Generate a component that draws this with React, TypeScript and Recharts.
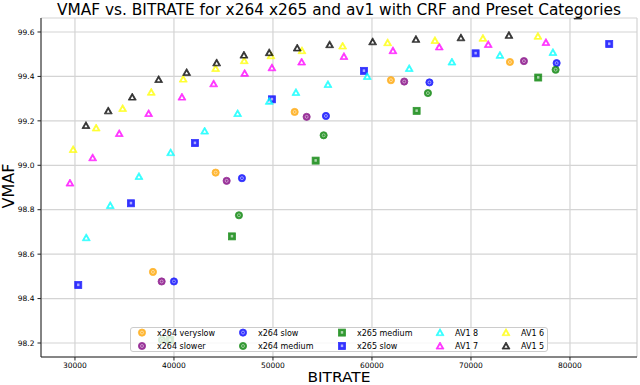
import React from 'react';
import { ScatterChart, Scatter, XAxis, YAxis, CartesianGrid } from 'recharts';

// axis ticks
const X_TICKS = [30000, 40000, 50000, 60000, 70000, 80000];
const Y_TICKS = [98.2, 98.4, 98.6, 98.8, 99.0, 99.2, 99.4, 99.6];

// x264 presets (circles)
const x264VeryslowRate = [37878, 44211, 52190, 61916, 73935];
const x264VeryslowVmaf = [98.52, 98.967, 99.24, 99.383, 99.465];
const x264SlowerRate = [38757, 45322, 53402, 63259, 75349];
const x264SlowerVmaf = [98.477, 98.93, 99.218, 99.377, 99.469];
const x264SlowRate = [39999, 46867, 55351, 65805, 78652];
const x264SlowVmaf = [98.477, 98.942, 99.222, 99.373, 99.46];
const x264MediumRate = [38787, 46564, 55119, 65653, 78551];
const x264MediumVmaf = [98.214, 98.775, 99.135, 99.325, 99.43];

// x265 presets (squares)
const x265MediumRate = [39595, 45857, 54311, 64512, 76793];
const x265MediumVmaf = [98.214, 98.68, 99.021, 99.245, 99.395];
const x265SlowRate = [30333, 35656, 42120, 49897, 59189, 70471, 83964];
const x265SlowVmaf = [98.461, 98.829, 99.1, 99.297, 99.425, 99.504, 99.546];

// AV1 presets (triangles)
const av1P8Rate = [31141, 33565, 36464, 39666, 43100, 46433, 49624, 52321, 55553, 59522, 63764, 68077, 72925, 78278];
const av1P8Vmaf = [98.674, 98.819, 98.95, 99.057, 99.154, 99.233, 99.288, 99.328, 99.364, 99.4, 99.436, 99.465, 99.495, 99.508];
const av1P7Rate = [29495, 31788, 34474, 37444, 40807, 44009, 47140, 49897, 52897, 57169, 62118, 66795, 71743, 77571];
const av1P7Vmaf = [98.92, 99.034, 99.143, 99.233, 99.307, 99.367, 99.414, 99.439, 99.465, 99.49, 99.516, 99.533, 99.544, 99.553];
const av1P6Rate = [29818, 32141, 34818, 37706, 40938, 44211, 47099, 49796, 52927, 57038, 61583, 66360, 71208, 76763];
const av1P6Vmaf = [99.071, 99.168, 99.256, 99.329, 99.388, 99.436, 99.471, 99.493, 99.516, 99.537, 99.552, 99.562, 99.572, 99.581];
const av1P5Rate = [31111, 33363, 35787, 38454, 41282, 44312, 47069, 49624, 52452, 55725, 60068, 64441, 68986, 73834, 80803];
const av1P5Vmaf = [99.179, 99.245, 99.307, 99.386, 99.418, 99.461, 99.496, 99.507, 99.528, 99.543, 99.556, 99.567, 99.574, 99.585, 99.672];

type Kind = 'circle' | 'square' | 'triangle';

const zip = (xs: number[], ys: number[]) => xs.map((x, i) => ({ x, y: ys[i] }));

const SERIES: { name: string; color: string; kind: Kind; data: { x: number; y: number }[] }[] = [
  { name: 'x264 veryslow', color: '#ffa500', kind: 'circle', data: zip(x264VeryslowRate, x264VeryslowVmaf) },
  { name: 'x264 slower', color: '#800080', kind: 'circle', data: zip(x264SlowerRate, x264SlowerVmaf) },
  { name: 'x264 slow', color: '#0000ff', kind: 'circle', data: zip(x264SlowRate, x264SlowVmaf) },
  { name: 'x264 medium', color: '#008000', kind: 'circle', data: zip(x264MediumRate, x264MediumVmaf) },
  { name: 'x265 medium', color: '#008000', kind: 'square', data: zip(x265MediumRate, x265MediumVmaf) },
  { name: 'x265 slow', color: '#0000ff', kind: 'square', data: zip(x265SlowRate, x265SlowVmaf) },
  { name: 'AV1 8', color: '#00ffff', kind: 'triangle', data: zip(av1P8Rate, av1P8Vmaf) },
  { name: 'AV1 7', color: '#ff00ff', kind: 'triangle', data: zip(av1P7Rate, av1P7Vmaf) },
  { name: 'AV1 6', color: '#ffff00', kind: 'triangle', data: zip(av1P6Rate, av1P6Vmaf) },
  { name: 'AV1 5', color: '#000000', kind: 'triangle', data: zip(av1P5Rate, av1P5Vmaf) },
];

const FONT = '"DejaVu Sans", sans-serif';

// marker drawn like the semi transparent matplotlib markers
const Marker = ({ kind, color, cx, cy }: { kind: Kind; color: string; cx: number; cy: number }) => {
  if (cx == null || cy == null) return null;
  if (kind === 'circle') {
    return (
      <g opacity={0.8}>
        <circle cx={cx} cy={cy} r={3.6} fill={color} stroke={color} strokeWidth={0.8} />
        <circle cx={cx} cy={cy} r={1.5} fill="none" stroke="#fff" strokeWidth={0.8} opacity={0.6} />
      </g>
    );
  }
  if (kind === 'square') {
    return (
      <g opacity={0.8}>
        <rect x={cx - 3.5} y={cy - 3.5} width={7} height={7} fill={color} stroke={color} strokeWidth={0.8} />
        <rect x={cx - 1.2} y={cy - 1.5} width={2.4} height={2.6} fill="#fff" opacity={0.6} />
      </g>
    );
  }
  const s = 4;
  const outer = `${cx},${cy - s} ${cx + s},${cy + s * 0.75} ${cx - s},${cy + s * 0.75}`;
  const t = 1.6;
  const inner = `${cx},${cy - t + 0.6} ${cx + t},${cy + t * 0.75 + 0.6} ${cx - t},${cy + t * 0.75 + 0.6}`;
  return (
    <g opacity={0.8}>
      <polygon points={outer} fill={color} stroke={color} strokeWidth={0.8} strokeLinejoin="round" />
      <polygon points={inner} fill="#fff" />
    </g>
  );
};

const LEGEND_COLS = [12, 113, 212, 310, 376];

const LegendBox = () => (
  <div
    style={{
      position: 'absolute',
      left: 130,
      top: 327,
      width: 418,
      height: 25,
      boxSizing: 'border-box',
      border: '1px solid #cccccc',
      borderRadius: 3,
      background: 'rgba(255,255,255,0.8)',
    }}
  >
    <svg width={418} height={25} style={{ position: 'absolute', left: -1, top: -1 }}>
      {SERIES.map((s, i) => {
        const col = Math.floor(i / 2);
        const row = i % 2;
        const mx = LEGEND_COLS[col];
        const my = row === 0 ? 5.6 : 19;
        return (
          <g key={s.name}>
            <Marker kind={s.kind} color={s.color} cx={mx} cy={my} />
            <text x={mx + 15} y={my + 3} fontSize={8} fontFamily={FONT} fill="#000">
              {s.name}
            </text>
          </g>
        );
      })}
    </svg>
  </div>
);

export default function App() {
  return (
    <div style={{ position: 'absolute', left: 0, top: 0, width: 640, height: 385, background: '#fff' }}>
      <ScatterChart width={640} height={385} margin={{ top: 18, right: 3, bottom: 0, left: 0 }}>
        <CartesianGrid stroke="#d4d4d4" strokeWidth={1.2} />
        <XAxis
          type="number"
          dataKey="x"
          domain={[26570, 86770]}
          ticks={X_TICKS}
          allowDataOverflow
          height={28}
          tickSize={3.5}
          tickMargin={2}
          axisLine={{ stroke: '#222', strokeWidth: 1 }}
          tickLine={{ stroke: '#222' }}
          tick={{ fontSize: 7.5, fill: '#000', fontFamily: FONT }}
        />
        <YAxis
          type="number"
          dataKey="y"
          domain={[98.137, 99.663]}
          ticks={Y_TICKS}
          allowDataOverflow
          width={41}
          tickSize={3.5}
          tickMargin={3}
          tickFormatter={(v: number) => v.toFixed(1)}
          axisLine={{ stroke: '#222', strokeWidth: 1 }}
          tickLine={{ stroke: '#222' }}
          tick={{ fontSize: 7.5, fill: '#000', fontFamily: FONT }}
        />
        <XAxis
          xAxisId="top"
          orientation="top"
          type="number"
          dataKey="x"
          domain={[26570, 86770]}
          height={0}
          tick={false}
          tickLine={false}
          axisLine={{ stroke: '#222', strokeWidth: 1 }}
        />
        <YAxis
          yAxisId="right"
          orientation="right"
          type="number"
          dataKey="y"
          domain={[98.137, 99.663]}
          width={0}
          tick={false}
          tickLine={false}
          axisLine={{ stroke: '#222', strokeWidth: 1 }}
        />
        {SERIES.map((s) => (
          <Scatter
            key={s.name}
            name={s.name}
            data={s.data}
            isAnimationActive={false}
            shape={(p: any) => <Marker kind={s.kind} color={s.color} cx={p.cx} cy={p.cy} />}
          />
        ))}
      </ScatterChart>

      <svg width={640} height={385} style={{ position: 'absolute', left: 0, top: 0, pointerEvents: 'none' }}>
        <text x={339} y={14.5} textAnchor="middle" fontSize={15.5} fontFamily={FONT} fill="#000" textLength={564} lengthAdjust="spacingAndGlyphs">
          VMAF vs. BITRATE for x264 x265 and av1 with CRF and Preset Categories
        </text>
        <text x={339} y={382} textAnchor="middle" fontSize={14} fontFamily={FONT} fill="#000" textLength={63} lengthAdjust="spacingAndGlyphs">
          BITRATE
        </text>
        <text
          x={14}
          y={186}
          textAnchor="middle"
          fontSize={15}
          fontFamily={FONT}
          fill="#000"
          transform="rotate(-90 14 186)"
          textLength={45}
          lengthAdjust="spacingAndGlyphs"
        >
          VMAF
        </text>
      </svg>

      <LegendBox />
    </div>
  );
}
